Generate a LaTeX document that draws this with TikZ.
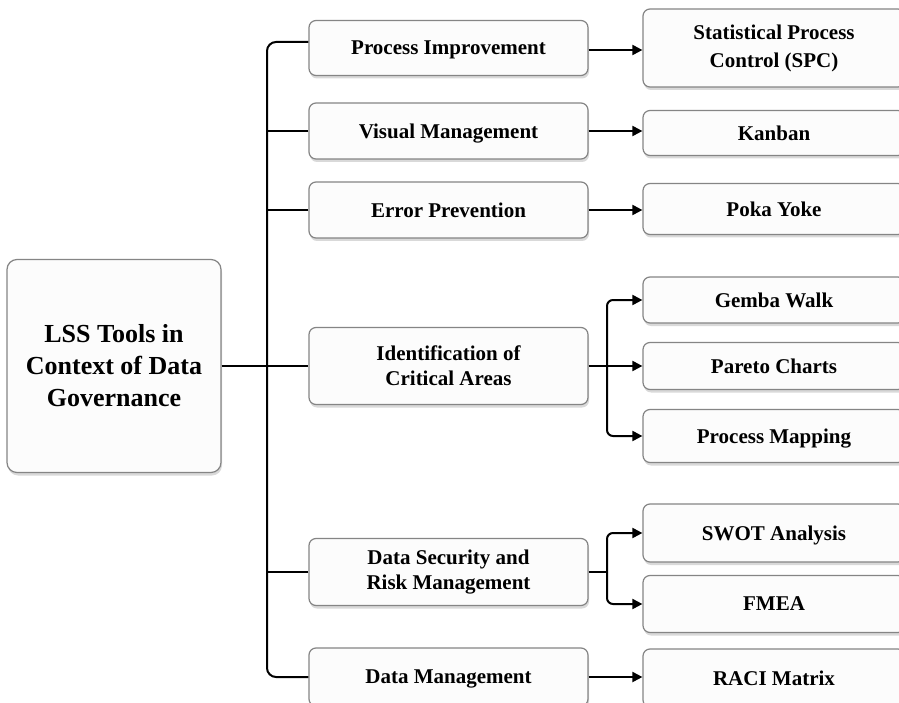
\documentclass[tikz,border=0pt]{standalone}
\usepackage{fontspec}
\setmainfont{Liberation Serif}
\usetikzlibrary{arrows.meta,shadows,calc}
\definecolor{boxborder}{HTML}{858585}
\definecolor{boxfill}{HTML}{FCFCFC}
\begin{document}
\begin{tikzpicture}[x=1pt,y=-1pt,
  box/.style={draw=boxborder, line width=1.2pt, fill=boxfill, rounded corners=7pt,
    inner sep=0pt, align=center, font=\fontsize{21}{25}\selectfont\bfseries,
    drop shadow={shadow xshift=1pt, shadow yshift=-3pt, opacity=0.15, fill=black}},
  midbox/.style={box, minimum width=279pt},
  rbox/.style={box, minimum width=262pt},
  flat/.style={text depth=0pt},
  rootbox/.style={box, rounded corners=10pt, minimum width=214pt, minimum height=213pt,
    font=\fontsize{26}{32}\selectfont\bfseries},
  conn/.style={draw=black, line width=2pt},
  arr/.style={conn, -{Triangle[length=10pt,width=10pt]}}
]
\useasboundingbox (0,0) rectangle (899,703);
\fill[white] (0,0) rectangle (899,703);
\clip (0,0) rectangle (899,703);

% root
\node[rootbox] (root) at (114,366) {LSS Tools in\\Context of Data\\Governance};

% middle column
\node[midbox, flat, minimum height=55pt] (pi)   at (448.5,48)  {Process Improvement};
\node[midbox, flat, minimum height=56pt] (vm)   at (448.5,131) {Visual Management};
\node[midbox, flat, minimum height=56pt] (ep)   at (448.5,210) {Error Prevention};
\node[midbox, minimum height=77pt] (ica)  at (448.5,366) {Identification of\\Critical Areas};
\node[midbox, minimum height=67pt] (dsrm) at (448.5,572) {Data Security and\\Risk Management};
\node[midbox, flat, minimum height=58pt] (dm)   at (448.5,677) {Data Management};

% right column
\node[rbox, minimum height=78pt] (spc)    at (774,48)  {Statistical Process\\[3pt]Control (SPC)};
\node[rbox, flat, minimum height=45pt] (kanban) at (774,133) {Kanban};
\node[rbox, flat, minimum height=51pt] (poka)   at (774,209) {Poka Yoke};
\node[rbox, flat, minimum height=46pt] (gemba)  at (774,300) {Gemba Walk};
\node[rbox, flat, minimum height=47pt] (pareto) at (774,366) {Pareto Charts};
\node[rbox, flat, minimum height=53pt] (pmap)   at (774,436) {Process Mapping};
\node[rbox, flat, minimum height=58pt] (swot)   at (774,533) {SWOT Analysis};
\node[rbox, flat, minimum height=57pt] (fmea)   at (774,604) {FMEA};
\node[rbox, flat, minimum height=58pt] (raci)   at (774,678) {RACI Matrix};

% helper coordinates
\coordinate (tx) at (267,0);
\coordinate (bx) at (607,0);
\coordinate (pitop) at ([yshift=6pt]pi.west);

% trunk
\draw[conn, rounded corners=9pt] (pitop) -- (pitop -| tx) |- (dm.west);
\draw[conn] (vm.west) -- (vm.west -| tx);
\draw[conn] (ep.west) -- (ep.west -| tx);
\draw[conn] (dsrm.west) -- (dsrm.west -| tx);
\draw[conn] (root.east) -- (ica.west);

% middle to right
\draw[arr] ([yshift=-2pt]pi.east) -- ([yshift=-2pt]pi.east -| spc.west);
\draw[arr] (vm.east) -- (vm.east -| kanban.west);
\draw[arr] (ep.east) -- (ep.east -| poka.west);
\draw[arr] (ica.east) -- (ica.east -| pareto.west);
\draw[arr, rounded corners=6pt] (ica.east -| bx) |- (gemba.west);
\draw[arr, rounded corners=6pt] (ica.east -| bx) |- (pmap.west);
\draw[conn] (dsrm.east) -- (dsrm.east -| bx);
\draw[arr, rounded corners=6pt] (dsrm.east -| bx) |- (swot.west);
\draw[arr, rounded corners=6pt] (dsrm.east -| bx) |- (fmea.west);
\draw[arr] (dm.east) -- (dm.east -| raci.west);
\end{tikzpicture}
\end{document}
